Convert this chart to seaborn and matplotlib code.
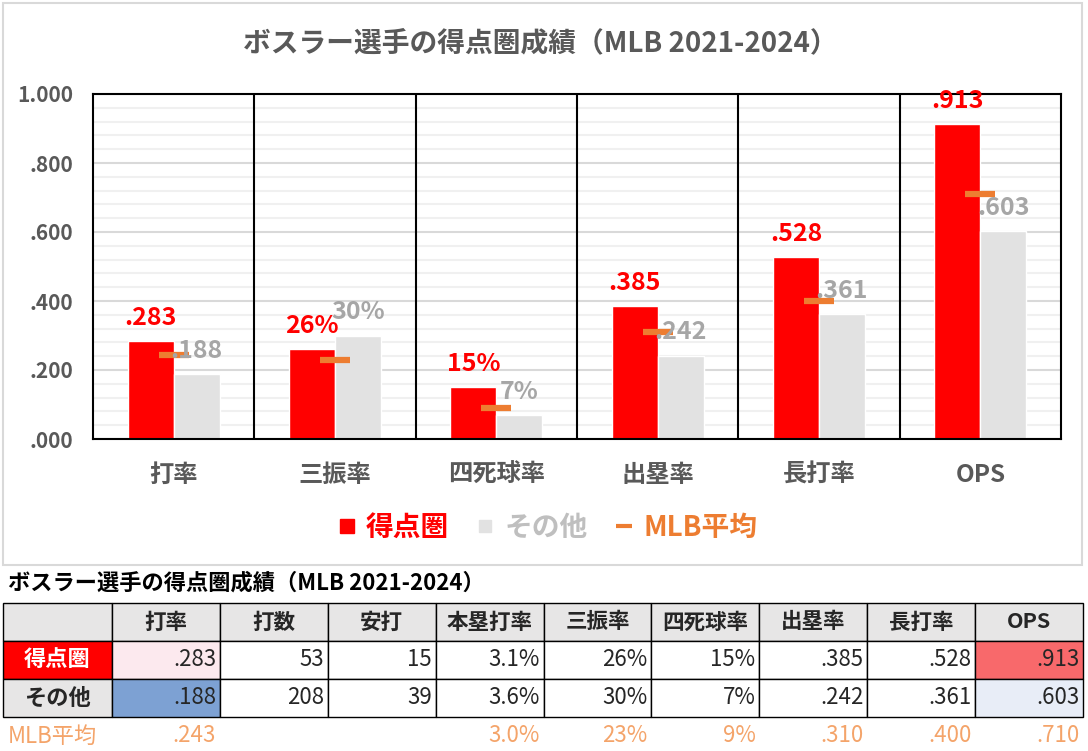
import numpy as np
import pandas as pd
import seaborn as sns
import matplotlib.pyplot as plt
from matplotlib.lines import Line2D
from matplotlib.patches import Rectangle

# ---- data ----
categories = ["打率", "三振率", "四死球率", "出塁率", "長打率", "OPS"]
risp = [0.283, 0.26, 0.15, 0.385, 0.528, 0.913]
other = [0.188, 0.30, 0.07, 0.242, 0.361, 0.603]
mlb = [0.243, 0.23, 0.09, 0.310, 0.400, 0.710]

table_cols = ["打率", "打数", "安打", "本塁打率", "三振率", "四死球率", "出塁率", "長打率", "OPS"]
at_bats = [53, 208]
hits = [15, 39]
hr_rate = [0.031, 0.036, 0.030]

groups = ["得点圏", "その他"]
title = "ボスラー選手の得点圏成績（MLB 2021-2024）"

RED = "#FF0000"
GRAY = "#E2E2E2"
GRAY_TXT = "#A6A6A6"
ORANGE = "#ED7D31"
AXIS_TXT = "#595959"


def fmt(metric, v):
    if v is None:
        return ""
    if metric in ("打数", "安打"):
        return str(v)
    if metric == "本塁打率":
        return f"{v:.1%}"
    if metric in ("三振率", "四死球率"):
        return f"{v:.0%}"
    return f"{v:.3f}".lstrip("0")


W, H = 1088, 751


def px(x0, y0, x1, y1):
    return [x0 / W, 1 - y1 / H, (x1 - x0) / W, (y1 - y0) / H]


sns.set_style("white")
plt.rcParams["font.family"] = ["Noto Sans CJK JP", "DejaVu Sans"]

fig = plt.figure(figsize=(W / 100, H / 100), dpi=100)
fig.add_artist(Rectangle((3 / W, 1 - 565 / H), 1079 / W, 562 / H,
                         transform=fig.transFigure, fill=False,
                         edgecolor="#D9D9D9", lw=1.5))

# ---- bar chart ----
ax = fig.add_axes(px(93, 94, 1061, 439))
df = pd.DataFrame({
    "指標": categories * 2,
    "区分": [groups[0]] * len(categories) + [groups[1]] * len(categories),
    "値": risp + other,
})
sns.barplot(data=df, x="指標", y="値", hue="区分", hue_order=groups,
            palette={groups[0]: RED, groups[1]: GRAY}, saturation=1,
            width=0.57, legend=False, ax=ax, zorder=2)

xs = np.arange(len(categories))
ax.hlines(mlb, xs - 0.093, xs + 0.093, colors=ORANGE, lw=4.5, zorder=3)

ax.bar_label(ax.containers[0], labels=[fmt(c, v) for c, v in zip(categories, risp)],
             padding=8, color=RED, fontsize=18, fontweight="bold", zorder=4)
ax.bar_label(ax.containers[1], labels=[fmt(c, v) for c, v in zip(categories, other)],
             padding=8, color=GRAY_TXT, fontsize=18, fontweight="bold", zorder=4)

ax.set_xlim(-0.5, len(categories) - 0.5)
ax.set_ylim(0, 1.0)
ax.set_yticks(np.arange(0, 1.01, 0.2))
ax.set_yticks(np.arange(0, 1.01, 0.04), minor=True)
ax.set_yticklabels([fmt("打率", v) for v in np.arange(0, 1.01, 0.2)])
ax.grid(axis="y", which="major", color="#D9D9D9", lw=1.5, zorder=0)
ax.grid(axis="y", which="minor", color="#F0F0F0", lw=1.5, zorder=0)
ax.set_axisbelow(True)
for b in np.arange(0.5, len(categories) - 0.5, 1):
    ax.axvline(b, color="black", lw=1.5, zorder=1)
for s in ax.spines.values():
    s.set_visible(True)
    s.set_color("black")
    s.set_linewidth(1.5)
ax.tick_params(axis="y", which="both", length=0, pad=14, labelsize=15, labelcolor=AXIS_TXT)
ax.tick_params(axis="x", length=0, pad=17, labelsize=17.5, labelcolor=AXIS_TXT)
for t in ax.get_xticklabels() + ax.get_yticklabels():
    t.set_fontweight("bold")
ax.set_xlabel("")
ax.set_ylabel("")

fig.text(540 / W, 1 - 43 / H, title, ha="center", va="center",
         fontsize=20, fontweight="bold", color=AXIS_TXT)

handles = [
    Line2D([], [], marker="s", ls="none", ms=10, color=RED),
    Line2D([], [], marker="s", ls="none", ms=9, color=GRAY),
    Line2D([], [], marker="_", ls="none", ms=12, mew=3, color=ORANGE),
]
leg = fig.legend(handles, groups + ["MLB平均"], loc="center",
                 bbox_to_anchor=(548 / W, 1 - 528 / H), ncol=3, frameon=False,
                 prop={"size": 20, "weight": "bold"}, handlelength=0.6,
                 handletextpad=0.4, columnspacing=1.0)
for t, c in zip(leg.get_texts(), [RED, "#BFBFBF", ORANGE]):
    t.set_color(c)

# ---- table ----
fig.text(8 / W, 1 - 583 / H, title, ha="left", va="center",
         fontsize=16, fontweight="bold", color="black")

row_vals = []
for i, series in enumerate([risp, other, mlb]):
    d = dict(zip(categories, series))
    d["打数"] = at_bats[i] if i < 2 else None
    d["安打"] = hits[i] if i < 2 else None
    d["本塁打率"] = hr_rate[i]
    row_vals.append([fmt(c, d[c]) for c in table_cols])

cells = [[""] + table_cols,
         [groups[0]] + row_vals[0],
         [groups[1]] + row_vals[1],
         ["MLB平均"] + row_vals[2]]

ax_t = fig.add_axes(px(3, 603, 1083, 755))
ax_t.axis("off")
tbl = ax_t.table(cellText=cells, colWidths=[109] + [107.9] * 9,
                 cellLoc="right", bbox=[0, 0, 1, 1])
tbl.auto_set_font_size(False)

highlight = {(1, 1): "#FCE9EE", (2, 1): "#7DA1D3", (1, 9): "#F8696B", (2, 9): "#E8EDF7"}
for (r, c), cell in tbl.get_celld().items():
    cell.set_linewidth(1.0)
    cell.set_edgecolor("black")
    cell.PAD = 0.035
    txt = cell.get_text()
    txt.set_fontsize(16)
    if r == 0:
        cell.set_facecolor("#E7E6E6")
        txt.set_ha("center")
        txt.set_fontsize(15.5)
        txt.set_fontweight("bold")
    elif r == 3:
        cell.visible_edges = ""
        cell.set_facecolor("none")
        txt.set_color("#F4A46A")
        if c == 0:
            txt.set_ha("left")
            cell.PAD = 0.04
    elif c == 0:
        txt.set_ha("center")
        txt.set_fontweight("bold")
        if r == 1:
            cell.set_facecolor(RED)
            txt.set_color("white")
        else:
            cell.set_facecolor("#E7E6E6")
    else:
        cell.set_facecolor(highlight.get((r, c), "white"))

fig.savefig("out.png", dpi=100)
